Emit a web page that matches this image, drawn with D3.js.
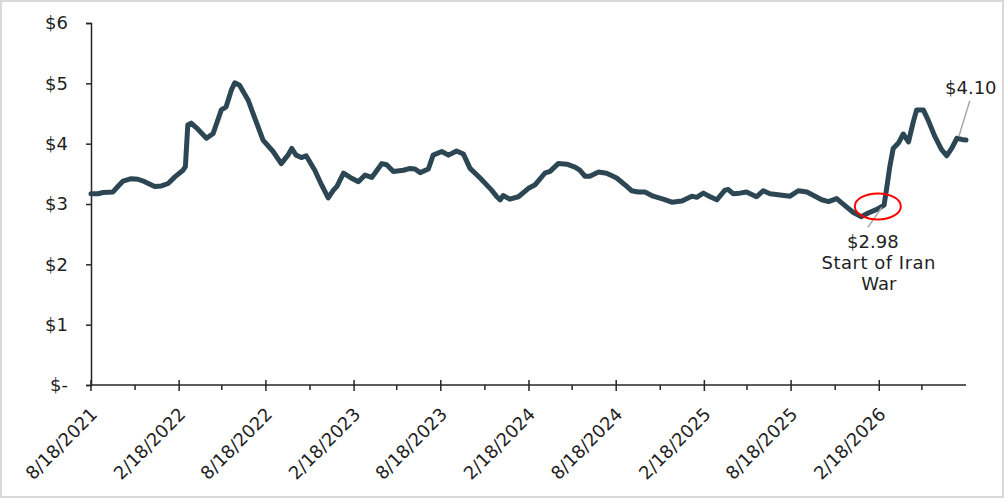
<!DOCTYPE html>
<html>
<head>
<meta charset="utf-8">
<script src="https://cdn.jsdelivr.net/npm/d3@7"></script>
<style>
  html, body { margin: 0; padding: 0; background: #ffffff; }
  svg { display: block; }
</style>
</head>
<body>
<svg id="chart" width="1005" height="500"></svg>
<script>
// ---- data ----
const dates = [
  "2021-08-18","2021-09-02","2021-09-12","2021-10-03","2021-10-13","2021-10-24","2021-11-10","2021-11-24",
  "2021-12-08","2021-12-29","2022-01-12","2022-01-26","2022-02-09","2022-02-26","2022-03-03","2022-03-08",
  "2022-03-15","2022-03-29","2022-04-16","2022-04-30","2022-05-06","2022-05-17","2022-05-27","2022-06-07",
  "2022-06-14","2022-06-24","2022-07-12","2022-07-26","2022-08-12","2022-09-02","2022-09-19","2022-10-03",
  "2022-10-11","2022-10-20","2022-10-31","2022-11-10","2022-11-28","2022-12-12","2022-12-26","2023-01-06",
  "2023-01-13","2023-01-27","2023-02-10","2023-02-27","2023-03-13","2023-03-27","2023-04-17","2023-04-27",
  "2023-05-11","2023-06-01","2023-06-15","2023-06-25","2023-07-06","2023-07-23","2023-08-02","2023-08-20",
  "2023-09-03","2023-09-20","2023-10-04","2023-10-18","2023-11-08","2023-12-02","2023-12-13","2023-12-20",
  "2023-12-26","2024-01-09","2024-01-27","2024-02-17","2024-03-02","2024-03-22","2024-04-02","2024-04-19",
  "2024-05-07","2024-05-24","2024-06-03","2024-06-14","2024-06-24","2024-07-12","2024-07-29","2024-08-19",
  "2024-09-05","2024-09-19","2024-10-03","2024-10-17","2024-11-03","2024-11-24","2024-12-12","2025-01-02",
  "2025-01-23","2025-02-02","2025-02-16","2025-03-02","2025-03-16","2025-04-02","2025-04-09","2025-04-19",
  "2025-05-03","2025-05-17","2025-06-07","2025-06-21","2025-07-05","2025-07-26","2025-08-16","2025-09-02",
  "2025-09-20","2025-10-07","2025-10-21","2025-11-04","2025-11-21","2025-12-09","2025-12-26","2026-01-12",
  "2026-01-26","2026-02-13","2026-02-28","2026-03-06","2026-03-12","2026-03-19","2026-03-30","2026-04-09",
  "2026-04-20","2026-04-30","2026-05-07","2026-05-21","2026-05-31","2026-06-14","2026-06-28","2026-07-09",
  "2026-07-19","2026-07-30","2026-08-09","2026-08-18"
];
const prices = [
  3.17,3.17,3.19,3.20,3.29,3.38,3.42,3.41,
  3.37,3.29,3.30,3.34,3.45,3.56,3.62,4.31,
  4.34,4.24,4.09,4.17,4.31,4.56,4.61,4.89,
  5.01,4.97,4.72,4.42,4.06,3.87,3.67,3.81,
  3.92,3.81,3.77,3.80,3.56,3.32,3.10,3.23,
  3.29,3.51,3.44,3.37,3.48,3.44,3.67,3.65,
  3.54,3.56,3.59,3.58,3.52,3.58,3.81,3.87,
  3.81,3.88,3.83,3.59,3.43,3.23,3.12,3.07,
  3.14,3.08,3.12,3.26,3.32,3.51,3.54,3.67,
  3.66,3.61,3.56,3.46,3.46,3.53,3.51,3.43,
  3.32,3.22,3.20,3.20,3.13,3.08,3.03,3.05,
  3.13,3.11,3.18,3.12,3.07,3.23,3.24,3.17,
  3.18,3.20,3.12,3.22,3.17,3.15,3.13,3.22,
  3.20,3.13,3.07,3.04,3.09,2.97,2.86,2.79,
  2.85,2.91,2.98,3.29,3.62,3.92,4.01,4.16,
  4.03,4.36,4.56,4.56,4.39,4.12,3.90,3.80,
  3.92,4.09,4.07,4.06
];
const xDomain = ["2021-08-18", "2026-08-18"];
const xMajorTicks = ["2021-08-18","2022-02-18","2022-08-18","2023-02-18","2023-08-18",
                     "2024-02-18","2024-08-18","2025-02-18","2025-08-18","2026-02-18"];
const xMajorLabels = ["8/18/2021","2/18/2022","8/18/2022","2/18/2023","8/18/2023",
                      "2/18/2024","8/18/2024","2/18/2025","8/18/2025","2/18/2026"];
const xMinorTicks = ["2021-11-18","2022-05-18","2022-11-18","2023-05-18","2023-11-18",
                     "2024-05-18","2024-11-18","2025-05-18","2025-11-18","2026-05-18"];
const yTicks = [0, 1, 2, 3, 4, 5, 6];
const yTickLabels = ["$-", "$1", "$2", "$3", "$4", "$5", "$6"];
const warEvent = { date: "2026-02-15", value: 2.96 };
const warLabel = ["$2.98", "Start of Iran", "War"];
const lastPoint = { date: "2026-08-03", value: 4.10 };
const lastLabel = "$4.10";

// ---- drawing ----
const parse = d3.timeParse("%Y-%m-%d");
const svg = d3.select("#chart");
const FONT = "DejaVu Sans, Verdana, sans-serif";
const TXT = "#1f1f1f";
const FS = 18;

svg.append("rect").attr("x", 1).attr("y", 1).attr("width", 1002).attr("height", 496)
  .attr("fill", "#ffffff").attr("stroke", "#d9d9d9").attr("stroke-width", 2);

const x = d3.scaleTime().domain(xDomain.map(parse)).range([91, 966]);
const y = d3.scaleLinear().domain([0, 6]).range([385, 23]);

const data = dates.map((d, i) => ({ date: parse(d), value: prices[i] }));

// y axis
const yAxis = d3.axisLeft(y).tickValues(yTicks).tickSize(5).tickPadding(18)
  .tickFormat((d, i) => yTickLabels[i]);
const gy = svg.append("g").attr("transform", "translate(91,0)").call(yAxis);
gy.select(".domain").attr("stroke", "#262626").attr("stroke-width", 1.5);
gy.selectAll(".tick line").attr("stroke", "#262626").attr("stroke-width", 1.5);
gy.selectAll(".tick text").attr("font-family", FONT).attr("font-size", FS).attr("fill", TXT);

// x axis
const y0 = y(0);
const gx = svg.append("g");
gx.append("line").attr("x1", x.range()[0]).attr("x2", x.range()[1])
  .attr("y1", y0).attr("y2", y0).attr("stroke", "#262626").attr("stroke-width", 1.5);
gx.selectAll("line.major").data(xMajorTicks).join("line").attr("class", "major")
  .attr("x1", d => x(parse(d))).attr("x2", d => x(parse(d)))
  .attr("y1", y0 - 5).attr("y2", y0 + 6).attr("stroke", "#262626").attr("stroke-width", 1.5);
gx.selectAll("line.minor").data(xMinorTicks).join("line").attr("class", "minor")
  .attr("x1", d => x(parse(d))).attr("x2", d => x(parse(d)))
  .attr("y1", y0).attr("y2", y0 + 5).attr("stroke", "#262626").attr("stroke-width", 1.5);
gx.selectAll("text").data(xMajorTicks).join("text")
  .attr("transform", d => `translate(${x(parse(d)) + 3},${y0 + 26}) rotate(-45)`)
  .attr("text-anchor", "end").attr("dy", "0.35em")
  .attr("font-family", FONT).attr("font-size", FS).attr("fill", TXT)
  .text((d, i) => xMajorLabels[i]);

// line
const line = d3.line().x(d => x(d.date)).y(d => y(d.value));
svg.append("path").datum(data).attr("d", line)
  .attr("fill", "none").attr("stroke", "#2c4753").attr("stroke-width", 5)
  .attr("stroke-linejoin", "round").attr("stroke-linecap", "round");

// war annotation
const wx = x(parse(warEvent.date)), wy = y(warEvent.value);
svg.append("line").attr("x1", wx + 4).attr("y1", wy + 1).attr("x2", wx - 10).attr("y2", wy + 21)
  .attr("stroke", "#a6a6a6").attr("stroke-width", 1.5);
svg.append("ellipse").attr("cx", wx).attr("cy", wy).attr("rx", 23).attr("ry", 13)
  .attr("fill", "none").attr("stroke", "#ff0000").attr("stroke-width", 2);
svg.append("g").selectAll("text").data(warLabel).join("text")
  .attr("x", (d, i) => wx + (i === 0 ? -5 : 1)).attr("y", (d, i) => wy + 42 + i * 21)
  .attr("text-anchor", "middle").attr("font-family", FONT).attr("font-size", FS).attr("fill", TXT)
  .attr("letter-spacing", (d, i) => i === 1 ? 0.5 : 0)
  .text(d => d);

// last value annotation
const lx = x(parse(lastPoint.date)), ly = y(lastPoint.value);
svg.append("line").attr("x1", lx).attr("y1", ly - 1).attr("x2", lx + 11).attr("y2", ly - 37)
  .attr("stroke", "#a6a6a6").attr("stroke-width", 1.5);
svg.append("text").attr("x", lx + 12).attr("y", ly - 44)
  .attr("text-anchor", "middle").attr("font-family", FONT).attr("font-size", FS).attr("fill", TXT)
  .text(lastLabel);
</script>
</body>
</html>
